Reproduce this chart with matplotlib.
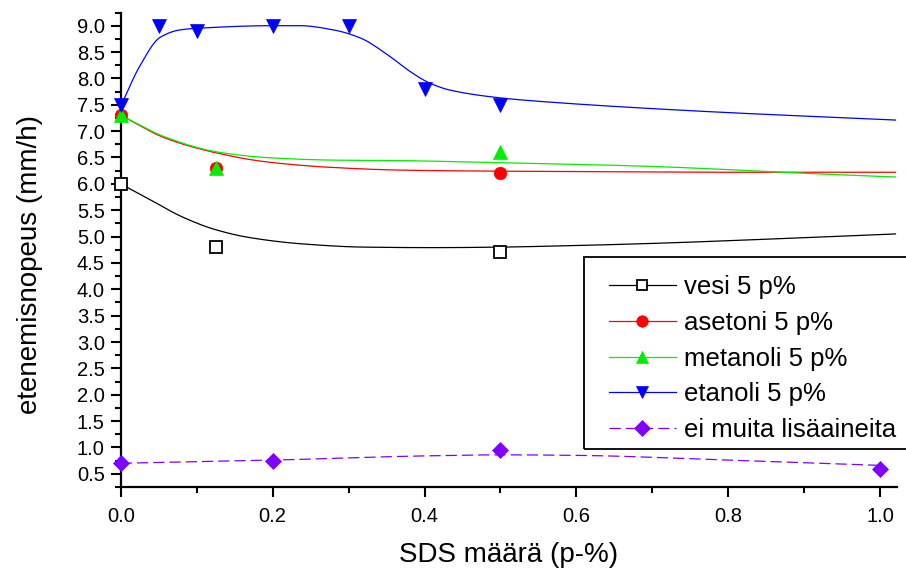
import numpy as np
import matplotlib
matplotlib.use("Agg")
import matplotlib.pyplot as plt
from matplotlib.ticker import MultipleLocator
from matplotlib.patches import Rectangle

plt.rcParams["font.family"] = ["Liberation Sans", "DejaVu Sans"]

# measured points
vesi_x = [0.0, 0.125, 0.5]
vesi_y = [6.0, 4.8, 4.7]
asetoni_x = [0.0, 0.125, 0.5]
asetoni_y = [7.3, 6.3, 6.2]
metanoli_x = [0.0, 0.125, 0.5]
metanoli_y = [7.3, 6.3, 6.6]
etanoli_x = [0.0, 0.05, 0.1, 0.2, 0.3, 0.4, 0.5]
etanoli_y = [7.5, 9.0, 8.9, 9.0, 9.0, 7.8, 7.5]
ei_x = [0.0, 0.2, 0.5, 1.0]
ei_y = [0.7, 0.75, 0.95, 0.6]

# fitted trend curves
vesi_fit_x = [0.0, 0.04, 0.08, 0.125, 0.17, 0.24, 0.32, 0.41, 0.5, 0.57, 0.7, 0.85, 1.02]
vesi_fit_y = [6.0, 5.69, 5.38, 5.13, 4.98, 4.86, 4.80, 4.79, 4.80, 4.82, 4.87, 4.95, 5.05]
asetoni_fit_x = [0.0, 0.06, 0.125, 0.19, 0.28, 0.37, 0.5, 0.65, 0.8, 1.02]
asetoni_fit_y = [7.3, 6.86, 6.59, 6.42, 6.31, 6.26, 6.24, 6.23, 6.22, 6.22]
metanoli_fit_x = [0.0, 0.06, 0.125, 0.19, 0.28, 0.37, 0.5, 0.6, 0.7, 0.8, 0.9, 1.02]
metanoli_fit_y = [7.3, 6.88, 6.61, 6.50, 6.45, 6.44, 6.40, 6.37, 6.33, 6.27, 6.20, 6.13]
etanoli_fit_x = [0.0, 0.025, 0.052, 0.078, 0.1, 0.2, 0.236, 0.28, 0.315, 0.354, 0.381,
                 0.407, 0.433, 0.5, 0.565, 0.76, 1.02]
etanoli_fit_y = [7.47, 8.23, 8.78, 8.92, 8.95, 9.0, 9.0, 8.92, 8.77, 8.42, 8.13,
                 7.91, 7.78, 7.63, 7.55, 7.38, 7.21]
ei_fit_x = [0.0, 0.2, 0.4, 0.5, 0.6, 0.8, 1.0]
ei_fit_y = [0.7, 0.76, 0.84, 0.86, 0.85, 0.76, 0.66]


def smooth(xs, ys, n=400):
    """Monotone cubic (PCHIP) rendering of a sampled curve."""
    x = np.asarray(xs, float)
    y = np.asarray(ys, float)
    h = np.diff(x)
    d = np.diff(y) / h
    m = np.zeros_like(y)
    for k in range(1, len(x) - 1):
        if d[k - 1] * d[k] > 0:
            w1 = 2 * h[k] + h[k - 1]
            w2 = h[k] + 2 * h[k - 1]
            m[k] = (w1 + w2) / (w1 / d[k - 1] + w2 / d[k])
    m[0] = d[0]
    m[-1] = d[-1]
    xx = np.linspace(x[0], x[-1], n)
    idx = np.clip(np.searchsorted(x, xx) - 1, 0, len(x) - 2)
    t = (xx - x[idx]) / h[idx]
    h00 = 2 * t**3 - 3 * t**2 + 1
    h10 = t**3 - 2 * t**2 + t
    h01 = -2 * t**3 + 3 * t**2
    h11 = t**3 - t**2
    yy = (h00 * y[idx] + h10 * h[idx] * m[idx] + h01 * y[idx + 1]
          + h11 * h[idx] * m[idx + 1])
    return xx, yy


W, H = 906, 570
fig = plt.figure(figsize=(W / 100, H / 100), dpi=100)
ax = fig.add_axes([120.7 / W, 1 - 487 / H, (897 - 120.7) / W, (487 - 12.5) / H])

DASH = (9, 4)
series = [
    ("vesi 5 p%", vesi_x, vesi_y, vesi_fit_x, vesi_fit_y, "black", "s", 8, "white", "-"),
    ("asetoni 5 p%", asetoni_x, asetoni_y, asetoni_fit_x, asetoni_fit_y, "#ff0000", "o", 9, "#ff0000", "-"),
    ("metanoli 5 p%", metanoli_x, metanoli_y, metanoli_fit_x, metanoli_fit_y, "#00ee00", "^", 10, "#00ee00", "-"),
    ("etanoli 5 p%", etanoli_x, etanoli_y, etanoli_fit_x, etanoli_fit_y, "#0000ff", "v", 10, "#0000ff", "-"),
    ("ei muita lisäaineita", ei_x, ei_y, ei_fit_x, ei_fit_y, "#8000ff", "D", 8.5, "#8000ff", "--"),
]

handles = []
for label, x, y, fx, fy, col, mk, ms, fc, ls in series:
    sx, sy = smooth(fx, fy)
    ln, = ax.plot(sx, sy, color=col, lw=0.9, ls=ls, clip_on=False)
    ax.plot(x, y, ls="none", marker=mk, ms=ms, mfc=fc, mec=col, mew=1.3 if mk == "s" else 0.5,
            clip_on=False, zorder=3)
    h, = ax.plot([], [], color=col, lw=0.9, ls=ls, marker=mk, ms=ms * 0.92, mfc=fc, mec=col,
                 mew=1.3 if mk == "s" else 0.5)
    if ls == "--":
        ln.set_dashes(DASH)
        h.set_dashes(DASH)
    handles.append(h)

ax.set_xlim(0.0, 1.022)
ax.set_ylim(0.25, 9.25)
ax.xaxis.set_minor_locator(MultipleLocator(0.1))
ax.yaxis.set_minor_locator(MultipleLocator(0.25))
xt = np.arange(0.0, 1.01, 0.2)
yt = np.arange(0.5, 9.01, 0.5)
ax.set_xticks(xt)
ax.set_yticks(yt)
ax.set_xticklabels([f"{v:.1f}" for v in xt])
ax.set_yticklabels([f"{v:.1f}" for v in yt])

for side in ("top", "right"):
    ax.spines[side].set_visible(False)
for side in ("left", "bottom"):
    ax.spines[side].set_linewidth(1.6)
ax.tick_params(which="major", direction="out", length=7.5, width=1.5, labelsize=14.5)
ax.tick_params(axis="y", which="major", pad=4)
ax.tick_params(axis="x", which="major", pad=7)
ax.tick_params(which="minor", direction="out", length=4.5, width=1.5)

ax.set_xlabel("SDS määrä (p-%)", fontsize=20)
ax.set_ylabel("etenemisnopeus (mm/h)", fontsize=20)
ax.xaxis.set_label_coords(0.5, -0.116)
ax.yaxis.set_label_coords(-0.100, 0.468)

# legend: frame drawn separately so it runs past the right edge
fig.patches.append(Rectangle((584 / W, 1 - 449 / H), (912 - 584) / W, (449 - 257) / H,
                             transform=fig.transFigure, fill=False, ec="black", lw=1.3,
                             zorder=5))
fig.legend(handles, [s[0] for s in series], loc="upper left",
           bbox_to_anchor=(609 / W, 1 - 275 / H), bbox_transform=fig.transFigure,
           fontsize=18.5, frameon=False, handlelength=2.6, handletextpad=0.3,
           labelspacing=0.46, borderpad=0.0, borderaxespad=0.0, numpoints=1)

fig.savefig("out.png", dpi=100, facecolor="white")
